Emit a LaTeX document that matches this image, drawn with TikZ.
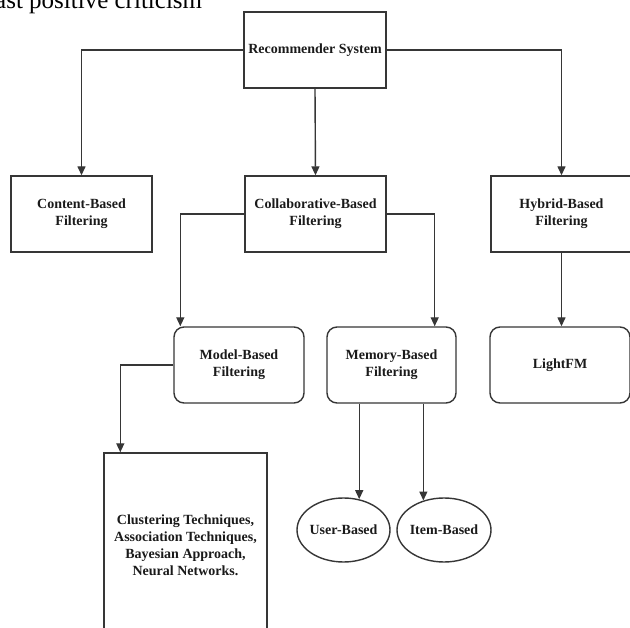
\documentclass[tikz,border=0pt]{standalone}
\usepackage{fontspec}
\setmainfont{Liberation Serif}
\usetikzlibrary{arrows.meta,shapes.geometric}
\definecolor{linegray}{HTML}{363636}
\definecolor{textgray}{HTML}{1A1A1A}
\begin{document}
\begin{tikzpicture}[x=1pt,y=-1pt,
  box/.style={draw=linegray, line width=1.4pt, rectangle, minimum width=141pt,
    minimum height=76pt, align=center, text=textgray, inner sep=0pt,
    font=\bfseries\fontsize{14}{17}\selectfont},
  rbox/.style={box, rounded corners=10pt},
  oval/.style={draw=linegray, line width=1.4pt, ellipse, inner sep=0pt,
    minimum width=93pt, minimum height=64pt, text=textgray,
    font=\bfseries\fontsize{14}{17}\selectfont},
  link/.style={draw=linegray, line width=1.4pt, -{Triangle[length=9pt,width=8pt]}}
]
\clip (0,0) rectangle (630,628);

% running text above the chart
\node[anchor=base west, inner sep=0pt, font=\fontsize{25}{30}\selectfont, text=black]
  (caption) at (-5,9) {ast positive criticism};

% first level
\node[box, minimum width=142pt] (rec) at (315,50) {Recommender System};

% second level
\node[box] (content) at (81.5,214) {Content-Based\\Filtering};
\node[box] (collab)  at (315.5,214) {Collaborative-Based\\Filtering};
\node[box] (hybrid)  at (561.5,214) {Hybrid-Based\\Filtering};

% third level
\node[rbox, minimum width=130pt] (model)   at (239,365)   {Model-Based\\Filtering};
\node[rbox, minimum width=129pt] (memory)  at (391.5,365) {Memory-Based\\Filtering};
\node[rbox, minimum width=140pt] (lightfm) at (560,365)   {LightFM};

% leaves
\node[box, minimum width=163pt, minimum height=184pt] (cluster) at (185.5,545)
  {Clustering Techniques,\\Association Techniques,\\Bayesian Approach,\\Neural Networks.};
\node[oval] (user) at (343.5,530) {\makebox[0pt]{User-Based}};
\node[oval, minimum width=94pt] (item) at (444,530) {\makebox[0pt]{Item-Based}};

% connectors
\draw[link] (rec.west) -| (content.north);
\draw[link] (rec.south) -- (collab.north);
\draw[link] (rec.east) -| (hybrid.north);
\draw[link] (collab.west) -| ([xshift=7pt]model.north west);
\draw[link] (collab.east) -| ([xshift=-22pt]memory.north east);
\draw[link] (hybrid.south) -- (hybrid.south |- lightfm.north);
\draw[link] (model.west) -| ([xshift=17pt]cluster.north west);
\draw[link] (user.63 |- memory.south) -- (user.63);
\draw[link] (item.125 |- memory.south) -- (item.125);
\end{tikzpicture}
\end{document}
